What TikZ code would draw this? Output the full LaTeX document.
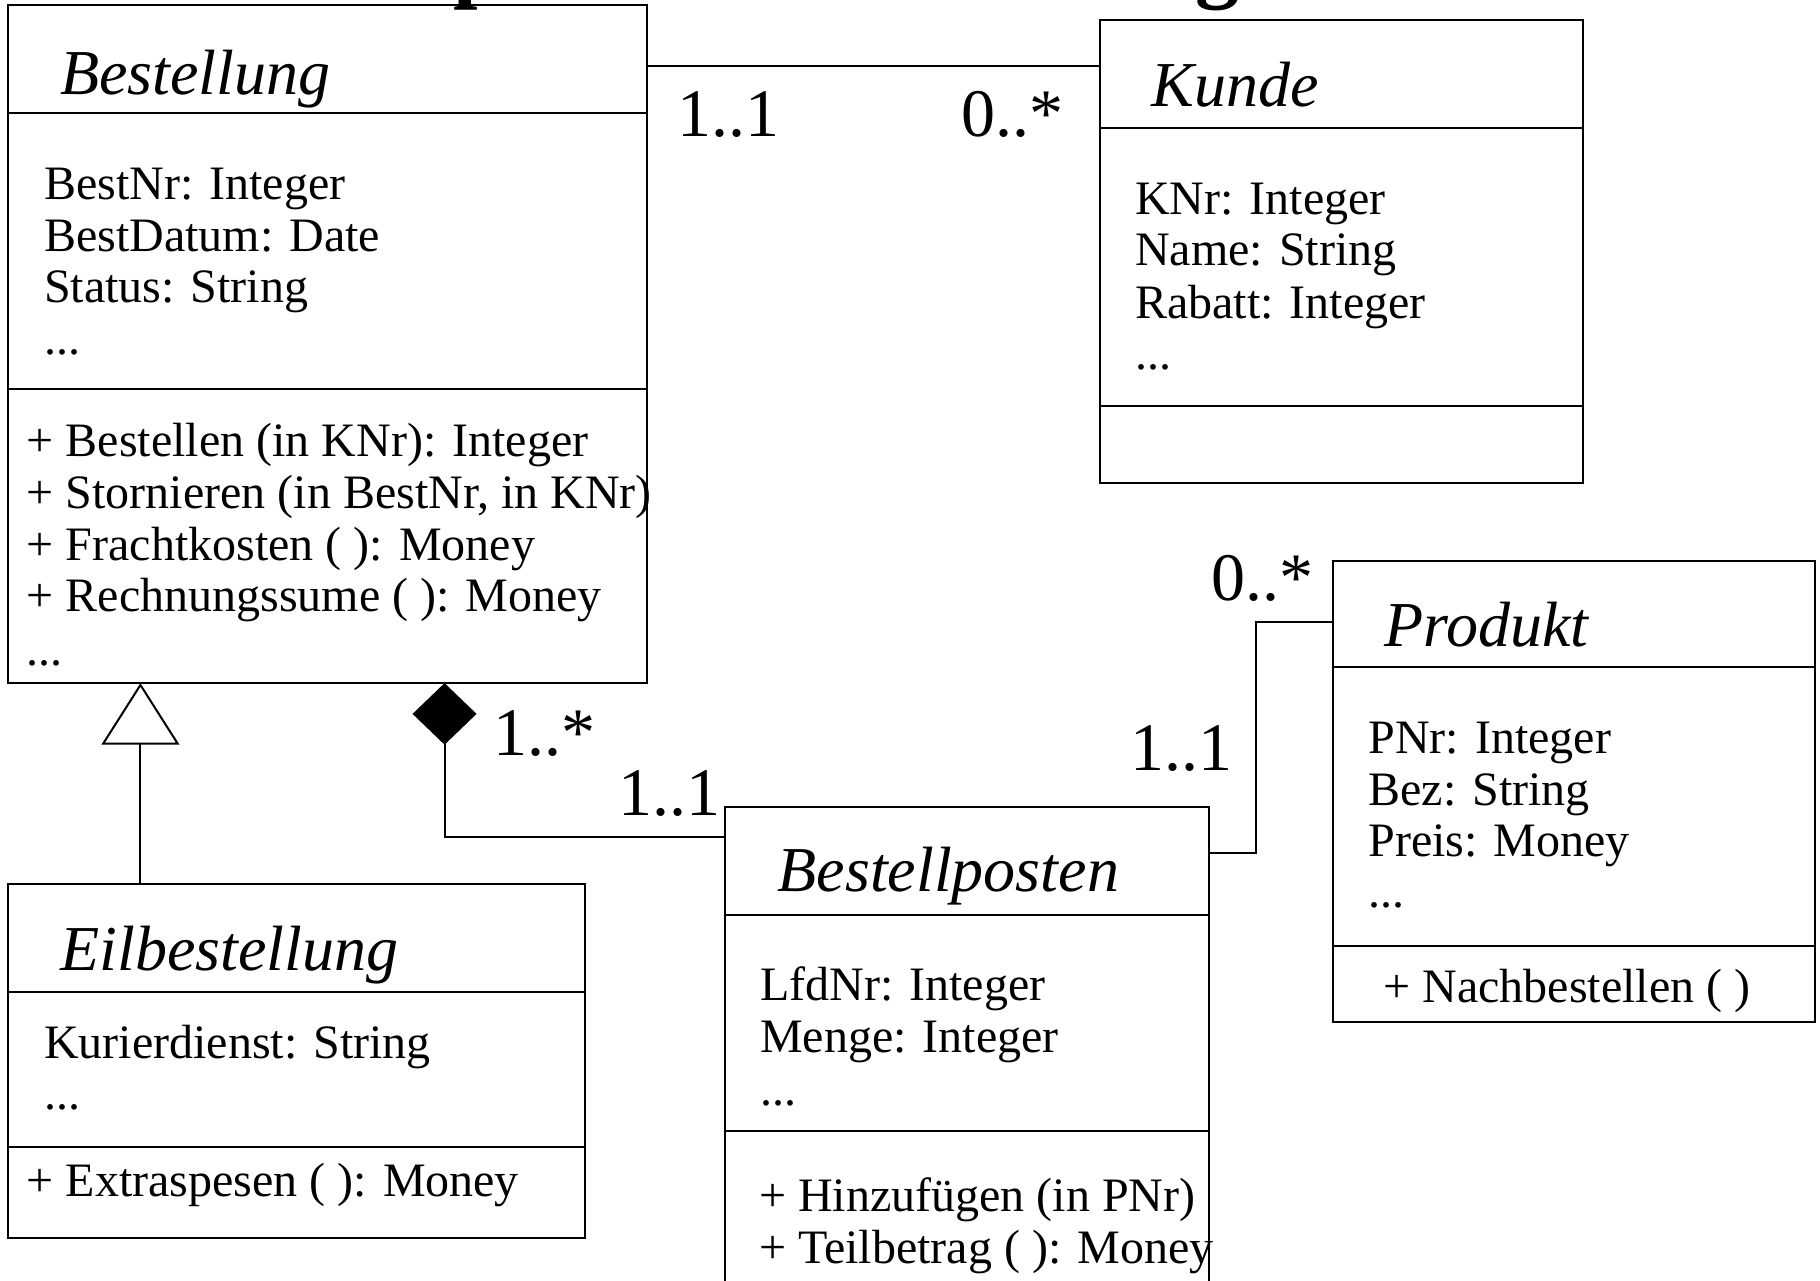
\documentclass[tikz,border=0pt]{standalone}
\usepackage{fontspec}
\setmainfont{Liberation Serif}
\usetikzlibrary{arrows.meta}
\newcommand\pxu{0.58036pt}
\begin{document}
\begin{tikzpicture}[x=0.58036pt, y=-0.58036pt,
  classbox/.style={draw, line width=1pt, inner sep=0pt, outer sep=0pt, anchor=north west},
  txt/.style={anchor=base west, inner sep=0pt, outer sep=0pt, font=\fontsize{24}{26}\selectfont},
  ttl/.style={anchor=base west, inner sep=0pt, outer sep=0pt, font=\itshape\fontsize{32}{36}\selectfont},
  mult/.style={anchor=base west, inner sep=0pt, outer sep=0pt, font=\fontsize{34}{38}\selectfont},
  frag/.style={anchor=base west, inner sep=0pt, outer sep=0pt, font=\bfseries\fontsize{44}{48}\selectfont},
  divline/.style={line width=1pt},
  conn/.style={line width=1pt},
  gen/.style={conn, -{Triangle[open, length=30.8pt, width=38.9pt, line width=1pt]}},
  comp/.style={conn, {Diamond[length=30.8pt, width=32pt]}-}
]
\useasboundingbox (0,0) rectangle (1568,1103);
\begin{scope}
\clip (0,0) rectangle (1568,1103);

% cut-off title fragments
\node[frag] (tp) at (391,-7) {p};
\node[frag] (tg) at (1030,-7) {g};

% ---------- Bestellung ----------
\node[classbox, minimum width=550*\pxu, minimum height=584.5*\pxu] (best) at (7,4) {};
\draw[divline] (7,97) -- (557,97);
\draw[divline] (7,335) -- (557,335);
\node[ttl] (bestT) at (52,81) {Bestellung};
\node[txt] (bestA1) at (38,171.7) {BestNr: Integer};
\node[txt] (bestA2) at (38,216.3) {BestDatum: Date};
\node[txt] (bestA3) at (38,260.5) {Status: String};
\node[txt] (bestA4) at (38,305) {...};
\node[txt] (bestO1) at (23,393.4) {+ Bestellen (in KNr): Integer};
\node[txt] (bestO2) at (23,438) {+ Stornieren (in BestNr, in KNr)};
\node[txt] (bestO3) at (23,482.5) {+ Frachtkosten ( ): Money};
\node[txt] (bestO4) at (23,527) {+ Rechnungssume ( ): Money};
\node[txt] (bestO5) at (23,573) {...};

% ---------- Kunde ----------
\node[classbox, minimum width=416*\pxu, minimum height=398.5*\pxu] (kunde) at (947.5,17.5) {};
\draw[divline] (947.5,110) -- (1363.5,110);
\draw[divline] (947.5,350) -- (1363.5,350);
\node[ttl] (kundeT) at (992,92) {Kunde};
\node[txt] (kundeA1) at (978,184.5) {KNr: Integer};
\node[txt] (kundeA2) at (978,229) {Name: String};
\node[txt] (kundeA3) at (978,274) {Rabatt: Integer};
\node[txt] (kundeA4) at (978,318) {...};

% ---------- Eilbestellung ----------
\node[classbox, minimum width=497*\pxu, minimum height=304.5*\pxu] (eil) at (7,762) {};
\draw[divline] (7,854.5) -- (504,854.5);
\draw[divline] (7,988) -- (504,988);
\node[ttl] (eilT) at (52,836) {Eilbestellung};
\node[txt] (eilA1) at (38,912) {Kurierdienst: String};
\node[txt] (eilA2) at (38,956) {...};
\node[txt] (eilO1) at (23,1030.5) {+ Extraspesen ( ): Money};

% ---------- Bestellposten ----------
\node[classbox, minimum width=416.5*\pxu, minimum height=420*\pxu] (bp) at (625,695.5) {};
\draw[divline] (625,788) -- (1041.5,788);
\draw[divline] (625,974) -- (1041.5,974);
\node[ttl] (bpT) at (670,768) {Bestellposten};
\node[txt] (bpA1) at (655,861.6) {LfdNr: Integer};
\node[txt] (bpA2) at (655,906.6) {Menge: Integer};
\node[txt] (bpA3) at (655,952) {...};
\node[txt] (bpO1) at (654,1044) {+ Hinzufügen (in PNr)};
\node[txt] (bpO2) at (654,1088.5) {+ Teilbetrag ( ): Money};

% ---------- Produkt ----------
\node[classbox, minimum width=416*\pxu, minimum height=397.5*\pxu] (prod) at (1148,483) {};
\draw[divline] (1148,575) -- (1564,575);
\draw[divline] (1148,815) -- (1564,815);
\node[ttl] (prodT) at (1193,556.6) {Produkt};
\node[txt] (prodA1) at (1179,649) {PNr: Integer};
\node[txt] (prodA2) at (1179,693.6) {Bez: String};
\node[txt] (prodA3) at (1179,738) {Preis: Money};
\node[txt] (prodA4) at (1179,782) {...};
\node[txt] (prodO1) at (1192,864) {+ Nachbestellen ( )};

% ---------- connectors ----------
% Bestellung -- Kunde
\coordinate (r1) at (0,57);
\draw[conn] (best.east |- r1) -- (kunde.west |- r1);
\node[mult] (m1) at (584,117.7) {1..1};
\node[mult] (m2) at (828,117.7) {0..*};

% generalization Eilbestellung -> Bestellung
\coordinate (gx) at (121,0);
\draw[gen] (eil.north -| gx) -- (best.south -| gx);

% composition Bestellung <>-- Bestellposten
\coordinate (cx) at (383,0);
\coordinate (cy) at (0,721);
\draw[comp] (best.south -| cx) |- (bp.west |- cy);
\node[mult] (m3) at (425,650.5) {1..*};
\node[mult] (m4) at (533,703) {1..1};

% Bestellposten -- Produkt
\coordinate (k1) at (1082,735);
\coordinate (k2) at (1082,536);
\draw[conn] (bp.east |- k1) -- (k1) -- (k2) -- (prod.west |- k2);
\node[mult] (m5) at (1044,517) {0..*};
\node[mult] (m6) at (974,663.4) {1..1};

\end{scope}
\end{tikzpicture}
\end{document}
